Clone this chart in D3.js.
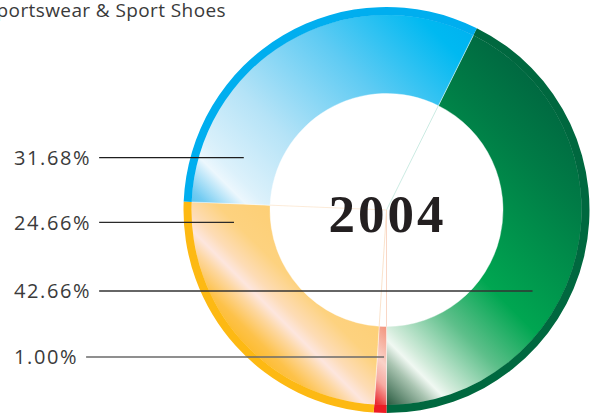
<!DOCTYPE html>
<html>
<head>
<meta charset="utf-8">
<script src="https://cdn.jsdelivr.net/npm/d3@7"></script>
<style>
  body { margin: 0; background: #fff; }
  svg { display: block; }
</style>
</head>
<body>
<svg id="chart"></svg>
<script>
// slice order runs clockwise from the blue/green split
const segments = ["green", "red", "orange", "blue"];
const shares = [42.66, 1.00, 24.66, 31.68];
const shareLabels = ["42.66%", "1.00%", "24.66%", "31.68%"];
const labelOrder = [3, 2, 0, 1];          // top to bottom on the left
const titleText = "Sportswear & Sport Shoes";
const yearText = "2004";

var width = 593, height = 416;
var cx = 386.5, cy = 210;
var rInner = 116.5, rFill = 195.5, rOuter = 203;

var svg = d3.select("#chart").attr("width", width).attr("height", height);
var defs = svg.append("defs");

// rim colours and glossy gradient stops, s = distance along the (-1,1) diagonal
var rimColor = { green: "#00683f", red: "#ed1c24", orange: "#fdb913", blue: "#00aeef" };
var gloss = {
  green:  { s0: -205, s1: 140, stops: [[0, "#006640"], [0.2, "#007c46"], [0.54, "#00a651"], [0.69, "#5dbf8a"],
                                       [0.83, "#d4ecdc"], [0.86, "#f0f8f2"], [0.9, "#a9c4b1"], [1, "#1e5236"]] },
  blue:   { s0: -205, s1: 140, stops: [[0, "#00aeef"], [0.13, "#00b9f1"], [0.38, "#5fcbf3"], [0.65, "#b5e3f7"],
                                       [0.83, "#dcf1fb"], [0.87, "#ecf7fd"], [0.95, "#74ccf2"], [1, "#45bfef"]] },
  orange: { s0: 80, s1: 200, stops: [[0, "#fdcf76"], [0.3, "#fdd27f"], [0.5, "#fddcb6"], [0.6, "#fde6de"],
                                     [0.7, "#fdd7a0"], [0.86, "#fdc24a"], [1, "#fdba28"]] },
  red:    { s0: 82, s1: 145, stops: [[0, "#f2937c"], [0.45, "#fad2c8"], [0.7, "#f6aaa2"], [1, "#e9242a"]] }
};

segments.forEach(function(k) {
  var g = gloss[k], k2 = Math.SQRT1_2;
  var lg = defs.append("linearGradient")
    .attr("id", "grad-" + k)
    .attr("gradientUnits", "userSpaceOnUse")
    .attr("x1", -g.s0 * k2).attr("y1", g.s0 * k2)
    .attr("x2", -g.s1 * k2).attr("y2", g.s1 * k2);
  g.stops.forEach(function(st) {
    lg.append("stop").attr("offset", st[0]).attr("stop-color", st[1]);
  });
});

// green ends exactly at 6 o'clock
var total = d3.sum(shares);
var start = Math.PI - 2 * Math.PI * shares[0] / total;
var pie = d3.pie().sort(null).value(function(d) { return d; })
  .startAngle(start).endAngle(start + 2 * Math.PI);
var slices = pie(shares);

var fillArc = d3.arc().innerRadius(rInner).outerRadius(rFill);
var rimArc = d3.arc().innerRadius(rFill - 0.5).outerRadius(rOuter);

var donut = svg.append("g").attr("transform", "translate(" + cx + "," + cy + ")");

donut.selectAll("path.fill")
  .data(slices)
  .enter().append("path")
  .attr("class", "fill")
  .attr("d", fillArc)
  .attr("fill", function(d, i) { return "url(#grad-" + segments[i] + ")"; })
  .attr("stroke", "#fff")
  .attr("stroke-width", 0.4);

donut.selectAll("path.rim")
  .data(slices)
  .enter().append("path")
  .attr("class", "rim")
  .attr("d", rimArc)
  .attr("fill", function(d, i) { return rimColor[segments[i]]; });

// faint hairlines left over in the hole
var hairColor = ["#bfe6dc", "#f7cdb8", "#f9dcc0", "#fbe6cf"];
donut.selectAll("line.hair")
  .data(slices)
  .enter().append("line")
  .attr("class", "hair")
  .attr("x1", 0).attr("y1", 0)
  .attr("x2", function(d) { return rInner * Math.sin(d.startAngle); })
  .attr("y2", function(d) { return -rInner * Math.cos(d.startAngle); })
  .attr("stroke", function(d, i) { return hairColor[i]; })
  .attr("stroke-width", 0.8);

svg.append("text")
  .attr("x", cx + 1)
  .attr("y", 232)
  .attr("text-anchor", "middle")
  .style("font-family", "'Liberation Serif', 'Times New Roman', serif")
  .style("font-weight", "bold")
  .style("font-size", "53px")
  .style("letter-spacing", "3px")
  .attr("fill", "#231f20")
  .text(yearText);

svg.append("text")
  .attr("x", 226)
  .attr("y", 17)
  .attr("text-anchor", "end")
  .style("font-family", "'Open Sans', sans-serif")
  .style("font-size", "19px")
  .style("letter-spacing", "0.4px")
  .attr("fill", "#3a3a3a")
  .text(titleText);

// labels and leader lines
var rowY = [157.7, 222.3, 291, 357];
var reach = [152, 153, 167, 147.02];
var side = { green: 1, red: -1, orange: -1, blue: -1 };
var lineColor = ["#1e1e1e", "#2a2a2a", "#333", "#6a6a6a"];

labelOrder.forEach(function(idx, row) {
  var y = rowY[row];
  var t = svg.append("text")
    .attr("x", 14)
    .attr("y", y + 7.3)
    .style("font-family", "'Open Sans', sans-serif")
    .style("font-size", "20px")
    .style("letter-spacing", "1.6px")
    .attr("fill", "#3a3a3a")
    .text(shareLabels[idx]);
  var bb = t.node().getBBox();
  var dy = y - cy;
  var xEnd = cx + side[segments[idx]] * Math.sqrt(Math.max(0, reach[row] * reach[row] - dy * dy));
  svg.append("line")
    .attr("x1", bb.x + bb.width + 8)
    .attr("x2", xEnd)
    .attr("y1", y).attr("y2", y)
    .attr("stroke", lineColor[row])
    .attr("stroke-width", 1.3);
});
</script>
</body>
</html>
